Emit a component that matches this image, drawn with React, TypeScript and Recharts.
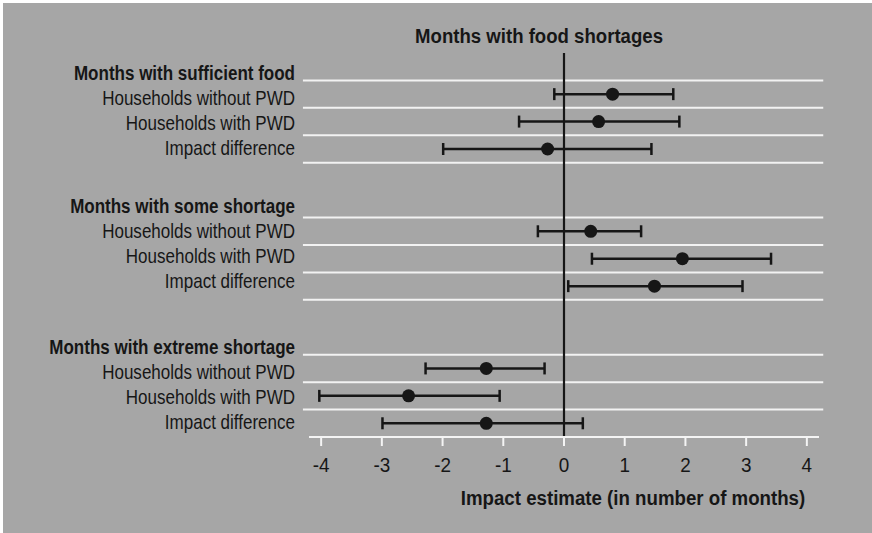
import React from 'react';
import { ScatterChart, Scatter, XAxis, YAxis, ErrorBar, ReferenceLine } from 'recharts';

const rowLabels = [
  'Months with sufficient food',
  'Households without PWD',
  'Households with PWD',
  'Impact difference',
  '',
  'Months with some shortage',
  'Households without PWD',
  'Households with PWD',
  'Impact difference',
  '',
  'Months with extreme shortage',
  'Households without PWD',
  'Households with PWD',
  'Impact difference',
];
const headerSlots = [0, 5, 10];
const rowSlots = [1, 2, 3, 6, 7, 8, 11, 12, 13];
const estimates = [0.8, 0.57, -0.27, 0.44, 1.95, 1.49, -1.28, -2.56, -1.28];
const lowerBounds = [-0.16, -0.74, -1.99, -0.43, 0.46, 0.07, -2.28, -4.03, -2.99];
const upperBounds = [1.8, 1.9, 1.44, 1.27, 3.41, 2.94, -0.32, -1.06, 0.31];
const xTicks = [-4, -3, -2, -1, 0, 1, 2, 3, 4];
const separatorSlots = [0.5, 1.5, 2.5, 3.5, 5.5, 6.5, 7.5, 8.5, 10.5, 11.5, 12.5];

const title = 'Months with food shortages';
const xTitle = 'Impact estimate (in number of months)';

const data = rowSlots.map((slot, i) => ({
  x: estimates[i],
  y: slot,
  err: [estimates[i] - lowerBounds[i], upperBounds[i] - estimates[i]],
}));

const FONT = '"Liberation Sans", Arial, sans-serif';
const INK = '#161616';

// label layout: labels sit on a slightly tighter pitch than the rows
const HEADER_DY = [13.5, 9.5, 13];
const LABEL_PITCH_SHRINK = 2.4;

const YTick = (props: any) => {
  const { x, y, payload } = props;
  const slot = payload.value;
  const label = rowLabels[slot];
  if (!label) return <g />;
  const isHeader = headerSlots.includes(slot);
  let g = 0;
  headerSlots.forEach((h, i) => {
    if (slot >= h) g = i;
  });
  const k = slot - headerSlots[g];
  const dy = HEADER_DY[g] - LABEL_PITCH_SHRINK * k;
  return (
    <text
      transform={`translate(${x},${y + dy}) scale(0.83,1)`}
      textAnchor="end"
      fontFamily={FONT}
      fontSize={20.5}
      fontWeight={isHeader ? 'bold' : 'normal'}
      fill={INK}
    >
      {label}
    </text>
  );
};

const XTick = (props: any) => {
  const { x, y, payload } = props;
  return (
    <text
      transform={`translate(${x},${y + 24}) scale(0.9,1)`}
      textAnchor="middle"
      fontFamily={FONT}
      fontSize={21}
      fill={INK}
    >
      {payload.value}
    </text>
  );
};

const Dot = (props: any) => <circle cx={props.cx} cy={props.cy} r={6.5} fill={INK} />;

export default function App() {
  return (
    <div style={{ position: 'fixed', left: 0, top: 0, width: 872, height: 533, background: '#ffffff', overflow: 'hidden' }}>
      <div style={{ position: 'absolute', left: 3, top: 3, width: 869, height: 530, background: '#a6a6a6' }} />
      <div style={{ position: 'absolute', left: 0, top: 0 }}>
        <ScatterChart width={872} height={533} margin={{ top: 53, right: 53, bottom: 0, left: 0 }}>
          <XAxis
            type="number"
            dataKey="x"
            domain={[-4.2, 4.2]}
            ticks={xTicks}
            height={96}
            axisLine={{ stroke: '#f4f4f4', strokeWidth: 2 }}
            tickLine={{ stroke: '#f4f4f4', strokeWidth: 2 }}
            tickSize={9}
            tick={<XTick />}
            interval={0}
          />
          <YAxis
            type="number"
            dataKey="y"
            domain={[-0.5, 13.5]}
            reversed
            ticks={rowLabels.map((_, i) => i)}
            interval={0}
            width={309}
            axisLine={false}
            tickLine={false}
            tickSize={0}
            tickMargin={14}
            tick={<YTick />}
          />
          {separatorSlots.map((s) => (
            <ReferenceLine
              key={s}
              segment={[
                { x: -4.3, y: s },
                { x: 4.27, y: s },
              ]}
              ifOverflow="visible"
              stroke="#f2f2f2"
              strokeWidth={2}
            />
          ))}
          <ReferenceLine x={0} stroke={INK} strokeWidth={2.2} />
          <Scatter data={data} shape={<Dot />} isAnimationActive={false}>
            <ErrorBar dataKey="err" direction="x" width={6} stroke={INK} strokeWidth={2.5} isAnimationActive={false} />
          </Scatter>
        </ScatterChart>
      </div>
      <svg
        width={872}
        height={533}
        style={{ position: 'absolute', left: 0, top: 0, pointerEvents: 'none' }}
      >
        <text
          transform="translate(539,43) scale(0.886,1)"
          textAnchor="middle"
          fontFamily={FONT}
          fontSize={21}
          fontWeight="bold"
          fill={INK}
        >
          {title}
        </text>
        <text
          transform="translate(633,505) scale(0.89,1)"
          textAnchor="middle"
          fontFamily={FONT}
          fontSize={21}
          fontWeight="bold"
          fill={INK}
        >
          {xTitle}
        </text>
      </svg>
    </div>
  );
}
